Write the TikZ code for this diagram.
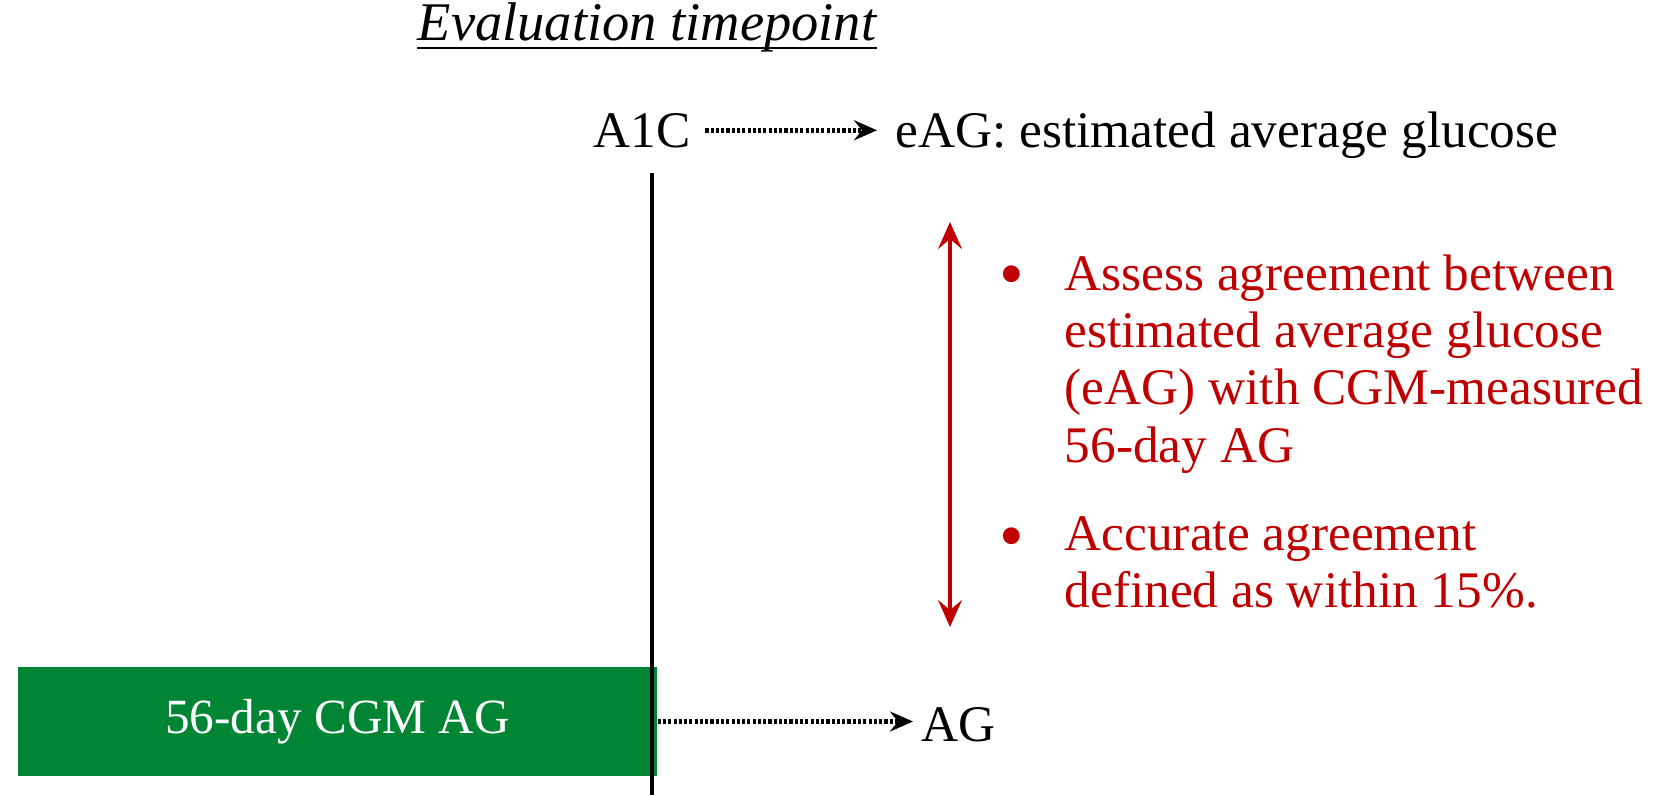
\documentclass[tikz,border=0pt]{standalone}
\usepackage{fontspec}
\setmainfont{Liberation Serif}
\usetikzlibrary{arrows.meta}
\definecolor{cgmgreen}{RGB}{0,133,52}
\definecolor{notered}{RGB}{192,0,0}

\begin{document}
\begin{tikzpicture}[x=0.1mm,y=-0.1mm,>={Stealth[length=2.3mm,width=2mm,inset=0.8mm]}]
\tikzset{
  lbl/.style={font=\fontsize{14.6}{17}\selectfont, inner sep=0pt},
  note/.style={font=\fontsize{14.6}{16.3}\selectfont, text=notered, inner sep=0pt, align=left},
  dot/.style={font=\fontsize{20}{21}\selectfont, text=notered, inner sep=0pt},
  dotarrow/.style={->, line width=1.3pt, dash pattern=on 0.9pt off 0.6pt}
}
\useasboundingbox (0,0) rectangle (1660,795);
% header
\node[lbl, font=\fontsize{15.5}{18}\selectfont\itshape, anchor=base] (title) at (647,40) {Evaluation timepoint};
\draw[line width=0.7pt] ([yshift=-0.8mm]title.base west) -- ([yshift=-0.8mm]title.base east);
\node[lbl, anchor=base west] (aonec) at (593,147) {A1C};
\node[lbl, anchor=base west] (eag) at (895,147) {eAG: estimated average glucose};
\draw[dotarrow] ([xshift=1.4mm]aonec.east) -- ([xshift=-1.8mm]aonec.east -| eag.west);
% time axis
\node[lbl, font=\fontsize{14}{17}\selectfont, fill=cgmgreen, text=white, minimum width=63.9mm, minimum height=10.9mm] (cgm) at (337.5,721.5) {56-day CGM AG};
\node[lbl, anchor=base west] (ag) at (921,741) {AG};
\draw[dotarrow] (cgm.east) -- ([xshift=-0.8mm]cgm.east -| ag.west);
\coordinate (vtop) at (652,173);
\coordinate (vbot) at (652,795);
\draw[line width=1pt] (vtop) -- (vbot);
% comparison
\coordinate (rtop) at (950,222);
\coordinate (rbot) at (950,627);
\draw[<->, notered, line width=0.9pt, >={Stealth[length=2.7mm,width=2.4mm,inset=1mm]}] (rtop) -- (rbot);
\node[dot] (bula) at (1012,282) {\textbullet};
\node[note, anchor=north west] (pta) at (1064,254) {Assess agreement between\\ estimated average glucose\\ (eAG) with CGM-measured\\ 56-day AG};
\node[dot] (bulb) at (1012,544) {\textbullet};
\node[note, anchor=north west] (ptb) at (1064,516) {Accurate agreement\\ defined as within 15\%.};
\end{tikzpicture}
\end{document}
